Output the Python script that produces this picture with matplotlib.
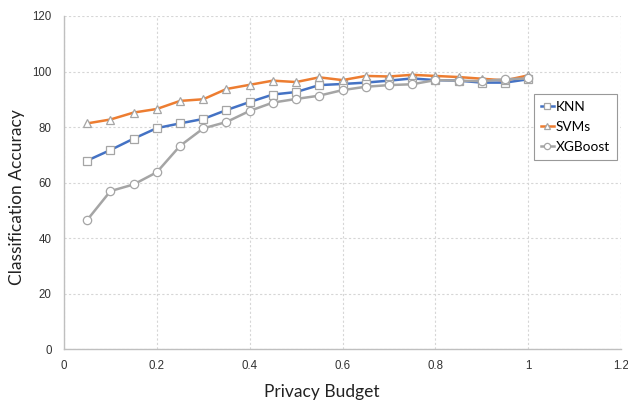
import matplotlib
matplotlib.use("Agg")
import matplotlib.pyplot as plt

plt.rcParams['font.family'] = ['Lato', 'DejaVu Sans']

budget = [0.05, 0.1, 0.15, 0.2, 0.25, 0.3, 0.35, 0.4, 0.45, 0.5, 0.55, 0.6, 0.65,
          0.7, 0.75, 0.8, 0.85, 0.9, 0.95, 1.0]
knn = [67.9, 71.7, 75.8, 79.6, 81.3, 82.9, 86.1, 89.0, 91.7, 92.6, 95.1, 95.5, 96.0,
       96.7, 97.5, 96.9, 96.7, 96.0, 96.0, 97.2]
svms = [81.3, 82.7, 85.2, 86.5, 89.4, 90.0, 93.7, 95.2, 96.7, 96.2, 97.9, 96.9, 98.4,
        98.2, 98.8, 98.4, 98.0, 97.4, 96.8, 98.6]
xgb = [46.5, 56.9, 59.3, 63.7, 73.2, 79.5, 81.8, 85.8, 88.8, 90.1, 91.3, 93.3, 94.5,
       95.1, 95.4, 96.9, 96.7, 96.5, 97.2, 97.5]

series = [("KNN", knn, "#4472C4", "s"),
          ("SVMs", svms, "#ED7D31", "^"),
          ("XGBoost", xgb, "#A5A5A5", "o")]

W, H = 628, 400
fig = plt.figure(figsize=(W/100, H/100), dpi=100)
ax = fig.add_axes([64/W, 1-349/H, (621-64)/W, (349-16)/H])

for name, vals, col, mk in series:
    ax.plot(budget, vals, color=col, lw=1.8, marker=mk, markersize=6,
            markerfacecolor="white", markeredgecolor="#A5A5A5", markeredgewidth=0.9,
            label=name)

ax.set_xlim(0, 1.2)
ax.set_ylim(0, 120)
ax.set_xticks([0, 0.2, 0.4, 0.6, 0.8, 1, 1.2])
ax.set_xticklabels(["0", "0.2", "0.4", "0.6", "0.8", "1", "1.2"])
ax.set_yticks(range(0, 121, 20))
ax.grid(True, color="#D6D6D6", linestyle=(0, (2, 2)), linewidth=0.8)
ax.set_axisbelow(True)
for s in ["top", "right"]:
    ax.spines[s].set_visible(False)
for s in ["left", "bottom"]:
    ax.spines[s].set_color("#BFBFBF")
    ax.spines[s].set_linewidth(1.0)
ax.tick_params(length=0, colors="#333333")
ax.tick_params(axis="y", pad=9)
ax.tick_params(axis="x", pad=8)
for lab in ax.get_xticklabels() + ax.get_yticklabels():
    lab.set_fontfamily(['Liberation Sans', 'DejaVu Sans'])
    lab.set_fontsize(8.3)

fig.text(322/W, 1-392/H, "Privacy Budget", fontsize=12.5, color="#222222",
         ha="center", va="center")
fig.text(17/W, 1-197/H, "Classification Accuracy", fontsize=12.5, color="#222222",
         ha="center", va="center", rotation=90)

leg = ax.legend(loc="upper left", bbox_to_anchor=((534-64)/557, 1-(94-16)/333),
                borderaxespad=0, fontsize=9.8, handlelength=0.95, handletextpad=0.15,
                labelspacing=0.6, borderpad=0.5, fancybox=False, framealpha=1,
                edgecolor="#999999", markerscale=0.75)
leg.get_frame().set_linewidth(0.8)

fig.savefig("out.png", dpi=100)
